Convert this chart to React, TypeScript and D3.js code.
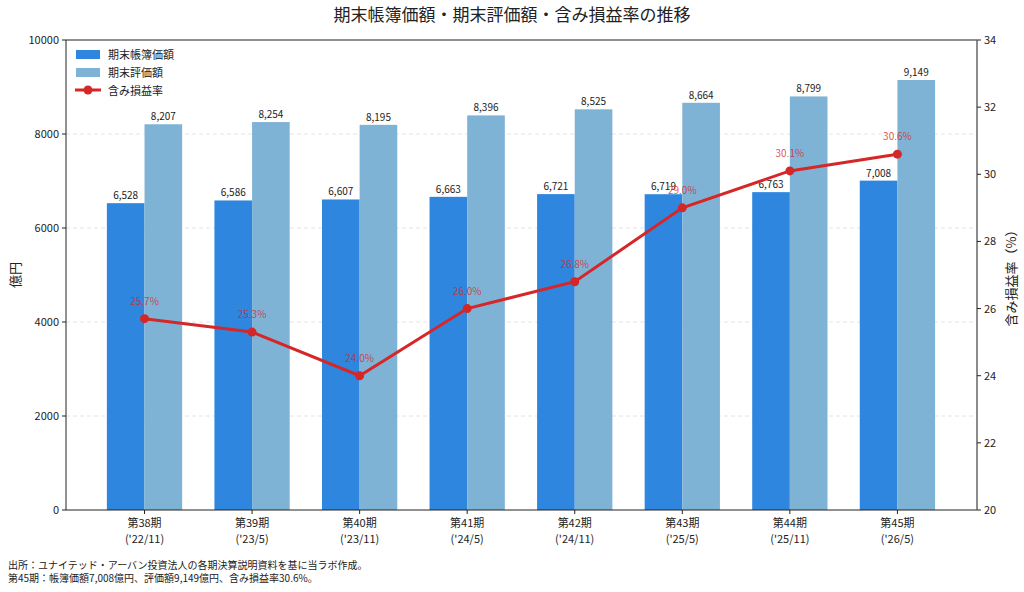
import React from "react";
import * as d3 from "d3";

// 期末帳簿価額・期末評価額・含み損益率
const periods = ["第38期", "第39期", "第40期", "第41期", "第42期", "第43期", "第44期", "第45期"];
const dates = ["('22/11)", "('23/5)", "('23/11)", "('24/5)", "('24/11)", "('25/5)", "('25/11)", "('26/5)"];
const bookValues = [6528, 6586, 6607, 6663, 6721, 6719, 6763, 7008];
const appraisalValues = [8207, 8254, 8195, 8396, 8525, 8664, 8799, 9149];
const gainRates = [25.7, 25.3, 24.0, 26.0, 26.8, 29.0, 30.1, 30.6];
const leftTicks = [0, 2000, 4000, 6000, 8000, 10000];
const rightTicks = [20, 22, 24, 26, 28, 30, 32, 34];

const W = 1024;
const H = 592;
const margin = { top: 40, right: 47, bottom: 82, left: 66 };
const FONT = "'Noto Sans CJK JP', 'Noto Sans', sans-serif";
const DARK = "#2e86de";
const LIGHT = "#7fb3d5";
const RED = "#d62728";

export default function App() {
  const x = d3
    .scaleLinear()
    .domain([-0.73, periods.length - 1 + 0.74])
    .range([margin.left, W - margin.right]);
  const y = d3.scaleLinear().domain([0, 10000]).range([H - margin.bottom, margin.top]);
  const y2 = d3.scaleLinear().domain([20, 34]).range([H - margin.bottom, margin.top]);
  const bw = x(0.35) - x(0);
  const fmt = d3.format(",");

  const line = d3
    .line<number>()
    .x((_, i) => x(i))
    .y((d) => y2(d));

  const left = margin.left;
  const right = W - margin.right;
  const top = margin.top;
  const bottom = H - margin.bottom;

  return (
    <svg width={W} height={H} style={{ position: "absolute", left: 0, top: 0, background: "#fff" }} fontFamily={FONT}>
      <text x={W / 2} y={21} textAnchor="middle" fontSize={17} fill="#222">
        期末帳簿価額・期末評価額・含み損益率の推移
      </text>

      {/* grid */}
      {leftTicks.slice(1, -1).map((t) => (
        <line key={t} x1={left} x2={right} y1={y(t)} y2={y(t)} stroke="#ddd" strokeDasharray="4,3" strokeWidth={0.8} />
      ))}

      {/* bars */}
      {bookValues.map((v, i) => (
        <g key={"b" + i}>
          <rect x={x(i) - bw} y={y(v)} width={bw} height={bottom - y(v)} fill={DARK} />
          <text x={x(i) - bw / 2} y={y(v) - 4} textAnchor="middle" fontSize={10} fill="#222">
            {fmt(v)}
          </text>
        </g>
      ))}
      {appraisalValues.map((v, i) => (
        <g key={"a" + i}>
          <rect x={x(i)} y={y(v)} width={bw} height={bottom - y(v)} fill={LIGHT} />
          <text x={x(i) + bw / 2} y={y(v) - 4} textAnchor="middle" fontSize={10} fill="#222">
            {fmt(v)}
          </text>
        </g>
      ))}

      {/* line */}
      <path d={line(gainRates) || ""} fill="none" stroke={RED} strokeWidth={3} />
      {gainRates.map((v, i) => (
        <g key={"r" + i}>
          <circle cx={x(i)} cy={y2(v)} r={4.5} fill={RED} />
          <text x={x(i)} y={y2(v) - 14} textAnchor="middle" fontSize={10} fill={RED} fillOpacity={0.8}>
            {v.toFixed(1)}%
          </text>
        </g>
      ))}

      {/* spines */}
      <line x1={left} x2={right} y1={top} y2={top} stroke="#222" strokeWidth={1} />
      <line x1={left} x2={right} y1={bottom} y2={bottom} stroke="#222" strokeWidth={1} />
      <line x1={left} x2={left} y1={top} y2={bottom} stroke="#222" strokeWidth={1} />
      <line x1={right} x2={right} y1={top} y2={bottom} stroke="#666" strokeWidth={1.5} />

      {/* left axis */}
      {leftTicks.map((t) => (
        <g key={"l" + t}>
          <line x1={left - 4} x2={left} y1={y(t)} y2={y(t)} stroke="#222" />
          <text x={left - 7} y={y(t) + 4} textAnchor="end" fontSize={11} fill="#222">
            {t}
          </text>
        </g>
      ))}
      <text transform={`translate(20,${(top + bottom) / 2}) rotate(-90)`} textAnchor="middle" fontSize={13} fill="#222">
        億円
      </text>

      {/* right axis */}
      {rightTicks.map((t) => (
        <g key={"rt" + t}>
          <line x1={right} x2={right + 4} y1={y2(t)} y2={y2(t)} stroke="#222" />
          <text x={right + 7} y={y2(t) + 4} textAnchor="start" fontSize={11} fill="#222">
            {t}
          </text>
        </g>
      ))}
      <text transform={`translate(1016,${(top + bottom) / 2}) rotate(-90)`} textAnchor="middle" fontSize={13} fill="#222">
        含み損益率（%）
      </text>

      {/* x axis */}
      {periods.map((p, i) => (
        <g key={"x" + i}>
          <line x1={x(i)} x2={x(i)} y1={bottom} y2={bottom + 4} stroke="#222" />
          <text x={x(i)} y={bottom + 17} textAnchor="middle" fontSize={11} fill="#222">
            {p}
          </text>
          <text x={x(i)} y={bottom + 33} textAnchor="middle" fontSize={11} fill="#222">
            {dates[i]}
          </text>
        </g>
      ))}

      {/* legend */}
      <g fontSize={11} fill="#222">
        <rect x={76} y={50} width={24} height={9} fill={DARK} />
        <text x={108} y={59}>期末帳簿価額</text>
        <rect x={76} y={68} width={24} height={9} fill={LIGHT} />
        <text x={108} y={77}>期末評価額</text>
        <line x1={75} x2={101} y1={90} y2={90} stroke={RED} strokeWidth={3} />
        <circle cx={88} cy={90} r={4.5} fill={RED} />
        <text x={108} y={95}>含み損益率</text>
      </g>

      {/* notes */}
      <g fontSize={10} fill="#222">
        <text x={8} y={569}>出所：ユナイテッド・アーバン投資法人の各期決算説明資料を基に当ラボ作成。</text>
        <text x={8} y={582}>第45期：帳簿価額7,008億円、評価額9,149億円、含み損益率30.6%。</text>
      </g>
    </svg>
  );
}
